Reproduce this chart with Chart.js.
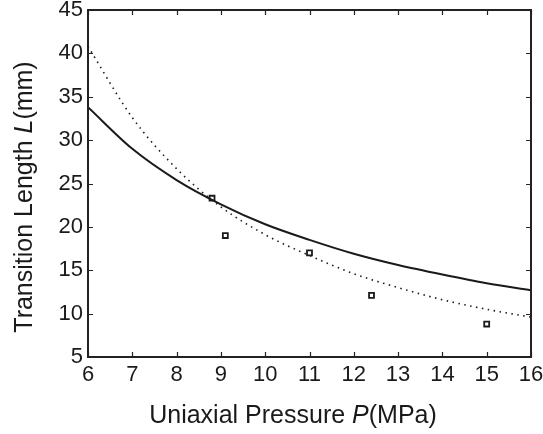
<!DOCTYPE html>
<html>
<head>
<meta charset="utf-8">
<script src="https://cdn.jsdelivr.net/npm/chart.js@4.4.1/dist/chart.umd.min.js"></script>
<style>
  html, body { margin: 0; padding: 0; background: #fff; }
  #wrap { width: 543px; height: 434px; }
</style>
</head>
<body>
<div id="wrap"><canvas id="myChart" width="543" height="434"></canvas></div>
<script>
const curveP = [6, 7, 8, 9, 10, 11, 12, 13, 14, 15, 16];
const solidL = [33.8, 29.0, 25.4, 22.6, 20.3, 18.5, 16.9, 15.6, 14.5, 13.5, 12.7];
const dottedL = [40.8, 32.6, 26.7, 22.3, 19.1, 16.7, 14.6, 13.0, 11.6, 10.5, 9.6];

// Measured points
const measP = [8.8, 9.1, 11.0, 12.4, 15.0];
const measL = [23.3, 19.0, 17.0, 12.1, 8.8];

const xTicks = [6, 7, 8, 9, 10, 11, 12, 13, 14, 15, 16];
const yTicks = [5, 10, 15, 20, 25, 30, 35, 40, 45];

const ink = '#1a1a1a';
const fontFamily = 'Liberation Sans, Arial, sans-serif';

function toXY(xs, ys) {
    return xs.map(function (x, i) { return { x: x, y: ys[i] }; });
}

// frame, inward ticks and the axis titles (titles have an italic letter)
const framePlugin = {
    id: 'frame',
    afterDraw: function (chart) {
        const c = chart.ctx;
        const a = chart.chartArea;
        const xs = chart.scales.x, ys = chart.scales.y;
        c.save();
        c.strokeStyle = '#222';
        c.lineWidth = 1.2;
        xTicks.forEach(function (v) {
            const px = Math.round(xs.getPixelForValue(v)) + 0.5;
            c.beginPath();
            c.moveTo(px, a.bottom); c.lineTo(px, a.bottom - 5);
            c.moveTo(px, a.top); c.lineTo(px, a.top + 5);
            c.stroke();
        });
        yTicks.forEach(function (v) {
            const py = Math.round(ys.getPixelForValue(v)) + 0.5;
            c.beginPath();
            c.moveTo(a.left, py); c.lineTo(a.left + 5, py);
            c.moveTo(a.right, py); c.lineTo(a.right - 5, py);
            c.stroke();
        });
        c.lineWidth = 2;
        c.strokeRect(a.left, a.top, a.right - a.left, a.bottom - a.top);

        c.fillStyle = ink;
        c.textBaseline = 'alphabetic';
        function mixed(parts, cx, cy) {
            let total = 0;
            parts.forEach(function (p) { c.font = p[1]; total += c.measureText(p[0]).width; });
            let x = cx - total / 2;
            c.textAlign = 'left';
            parts.forEach(function (p) {
                c.font = p[1];
                c.fillText(p[0], x, cy);
                x += c.measureText(p[0]).width;
            });
        }
        const n = '25px ' + fontFamily, it = 'italic 25px ' + fontFamily;
        mixed([['Uniaxial Pressure ', n], ['P', it], ['(MPa)', n]], 293, 423);
        c.translate(32, 197);
        c.rotate(-Math.PI / 2);
        mixed([['Transition Length ', n], ['L', it], ['(mm)', n]], 0, 0);
        c.restore();
    }
};

const ctx = document.getElementById('myChart');

new Chart(ctx, {
    type: 'line',
    data: {
        datasets: [{
            label: 'fit 1',
            data: toXY(curveP, solidL),
            borderColor: ink,
            borderWidth: 2,
            pointRadius: 0,
            cubicInterpolationMode: 'monotone',
            fill: false
        }, {
            label: 'fit 2',
            data: toXY(curveP, dottedL),
            borderColor: ink,
            borderWidth: 1.6,
            borderDash: [1.5, 4.5],
            pointRadius: 0,
            cubicInterpolationMode: 'monotone',
            fill: false
        }, {
            label: 'measured',
            data: toXY(measP, measL),
            showLine: false,
            pointStyle: 'rect',
            pointRadius: 3.5,
            pointBorderWidth: 1.8,
            pointBorderColor: ink,
            pointBackgroundColor: '#fff'
        }]
    },
    options: {
        responsive: false,
        animation: false,
        layout: { padding: { top: 10, right: 12, left: 0, bottom: 0 } },
        plugins: {
            legend: { display: false },
            tooltip: { enabled: false }
        },
        scales: {
            x: {
                type: 'linear', min: 6, max: 16,
                grid: { display: false, drawTicks: false },
                border: { display: false },
                afterBuildTicks: function (s) { s.ticks = xTicks.map(function (v) { return { value: v }; }); },
                afterFit: function (s) { s.height = 77; s.paddingLeft = 0; s.paddingRight = 0; },
                ticks: { color: ink, padding: 5, maxRotation: 0, autoSkip: false, font: { size: 22, family: fontFamily } }
            },
            y: {
                type: 'linear', min: 5, max: 45,
                grid: { display: false, drawTicks: false },
                border: { display: false },
                afterBuildTicks: function (s) { s.ticks = yTicks.map(function (v) { return { value: v }; }); },
                afterFit: function (s) { s.width = 88; s.paddingTop = 0; s.paddingBottom = 0; },
                ticks: { color: ink, padding: 5, autoSkip: false, font: { size: 22, family: fontFamily } }
            }
        }
    },
    plugins: [framePlugin]
});
</script>
</body>
</html>
